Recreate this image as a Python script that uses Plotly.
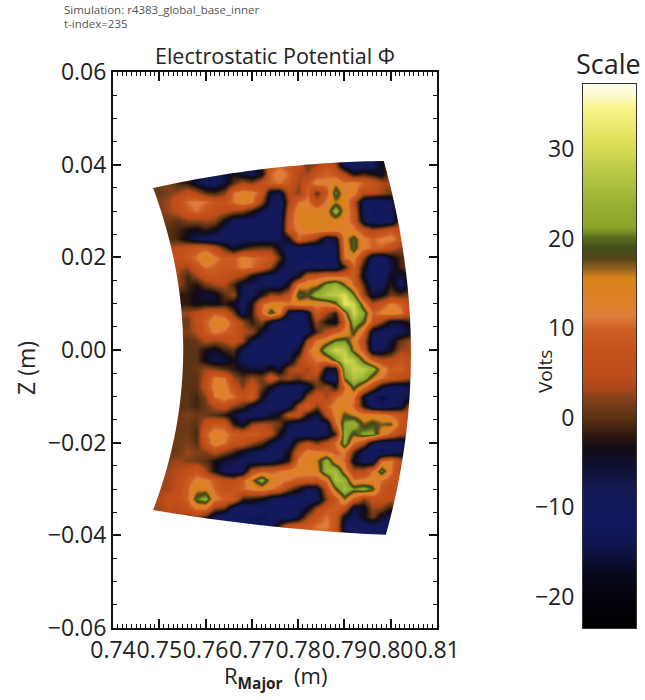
import numpy as np
import plotly.graph_objects as go

# Potential (volts). Columns run along R_major, rows down Z.
r_major = [round(0.748 + 0.002 * i, 3) for i in range(30)]
z_pos = [round(0.042 - 0.002 * j, 3) for j in range(43)]
phi = [
    [1,1,1,-1,-2,-5,-8,-9,-6,-2,-6,-8,-2,8,10,8,6,1,3,8,3,-9,-12,-11,-9,-4,2,2,2,2],
    [1,1,1,-1,-2,-5,-8,-9,-6,-2,-6,-8,-2,8,10,8,6,1,3,8,3,-9,-12,-11,-9,-4,2,2,2,2],
    [1,1,1,-1,-2,-6,-9,-10,-7,-3,-6,-8,-4,10,13,10,4,3,8,10,8,4,-3,-1,-3,-5,3,3,3,3],
    [1,1,2,-1,-2,-6,-9,-10,-6,0,4,2,6,10,11,9,3,8,13,12,15,11,13,10,8,4,3,3,3,3],
    [1,1,2,3,6,4,0,-1,2,11,13,13,8,-6,-7,5,2,10,0,8,21,13,13,5,5,3,1,1,1,1],
    [2,2,3,7,11,12,11,8,8,11,14,12,3,-8,-12,3,11,12,5,12,16,14,6,-9,-12,-12,-9,0,0,0],
    [2,2,3,5,9,11,8,7,5,3,2,-2,-7,-10,-12,6,14,14,14,14,24,14,8,-9,-13,-12,-10,2,2,2],
    [1,1,1,0,2,2,3,2,-4,-9,-10,-10,-11,-11,-10,8,14,15,15,14,14,13,9,-7,-11,-12,-10,2,2,2],
    [0,0,0,-1,-3,-4,-2,-4,-8,-10,-11,-11,-10,-10,-9,8,12,14,14,14,13,13,12,7,3,5,8,6,6,6],
    [0,0,0,-1,-5,-8,-9,-10,-11,-11,-10,-9,-9,-9,-8,-4,10,6,2,-8,-6,14,20,12,10,12,13,8,8,8],
    [4,4,4,5,7,9,9,6,0,-6,-2,0,1,1,-5,-10,-10,-11,-11,-10,-8,12,20,12,10,10,6,2,2,2],
    [8,8,8,6,9,11,16,12,9,9,13,11,10,8,0,-9,-12,-13,-12,-10,-9,11,13,2,-9,-11,-5,-1,1,1],
    [5,5,5,4,3,8,11,10,8,9,12,11,8,3,-5,-9,-10,-10,-10,-9,-9,-2,10,-3,-11,-12,-7,-1,1,1],
    [3,3,3,3,-1,3,7,8,7,5,3,-3,-7,-9,-10,-9,-5,7,8,10,10,10,9,-5,-11,-11,-4,-6,-2,-2],
    [3,3,3,3,-1,-3,1,3,4,-1,-7,-8,-9,-9,-9,-3,14,15,16,22,25,18,10,0,-10,-9,-2,-9,-3,-3],
    [-2,-2,-2,-2,-2,-4,-6,-5,0,3,-8,-9,-3,3,2,6,20,18,24,27,28,31,20,3,-6,-4,1,0,2,2],
    [-2,-2,-2,-2,-2,-4,-3,-4,-2,-5,-9,-3,10,13,14,11,14,14,12,13,17,32,30,14,4,8,12,10,5,5],
    [3,3,3,3,3,5,8,10,8,1,-8,-2,10,20,13,-7,-10,-6,9,3,-2,15,30,22,10,12,14,12,6,6],
    [1,1,1,1,1,6,10,13,14,8,3,-2,2,-6,-10,-12,-12,-7,3,-3,-5,9,24,19,8,2,-5,-5,-2,-2],
    [2,2,2,2,2,4,9,12,10,8,4,3,-5,-9,-11,-12,-11,-9,-1,5,9,12,19,10,-7,-10,-10,-9,-5,-5],
    [0,0,0,0,0,1,4,3,4,7,3,-7,-10,-11,-12,-12,-11,4,12,15,20,21,14,5,-9,-10,-6,1,3,3],
    [0,0,0,0,0,0,-3,-5,-1,0,-8,-12,-12,-11,-11,-10,-5,10,14,24,30,28,16,8,-9,-8,-4,3,3,3],
    [0,0,0,0,0,0,-4,-7,-6,-3,-9,-11,-11,-10,-10,-8,3,9,11,13,20,30,28,17,9,5,5,8,5,5],
    [0,0,0,0,0,1,3,2,0,-2,-4,-6,-6,-3,-6,3,5,3,9,-5,-5,24,29,28,24,14,9,10,6,6],
    [0,0,0,0,0,0,5,12,11,3,0,3,1,8,2,3,1,4,3,-9,-9,20,27,24,16,11,8,6,3,3],
    [0,0,0,0,0,0,6,13,13,7,2,7,1,-4,-8,-9,-10,-7,1,3,-3,10,20,12,4,-5,-9,-9,-7,-7],
    [0,0,0,0,0,-1,2,11,13,11,6,10,-3,-9,-11,-10,-9,3,8,3,10,13,12,-5,-12,-16,-12,-9,-6,-6],
    [0,0,0,0,0,-1,1,4,7,2,0,-6,-9,-10,-10,-9,4,10,2,9,13,14,10,-3,-10,-12,-10,-7,3,3],
    [1,1,1,1,2,1,1,0,-2,-6,-9,-10,-9,-6,-3,6,6,-3,-7,5,13,18,16,13,14,13,10,8,5,5],
    [1,1,1,1,1,0,6,9,9,-2,-6,2,4,3,1,-6,-9,-10,-10,-8,10,22,24,17,19,17,18,8,3,3],
    [1,1,1,1,1,-1,10,13,12,9,8,10,8,5,-3,-9,-11,-11,-10,-8,-1,24,18,22,22,14,9,4,4,4],
    [1,1,1,1,2,0,7,14,11,7,7,3,0,-6,-9,-9,1,5,1,5,11,23,11,5,-7,-10,-10,-9,-9,-9],
    [1,1,1,1,3,2,2,5,2,-1,-5,-7,-9,-10,-10,-4,8,13,12,11,9,12,0,-9,-13,-14,-11,-8,-8,-8],
    [2,2,2,3,2,1,0,-3,-6,-7,-9,-9,-9,-8,-6,-2,12,14,16,24,13,10,-5,-9,-10,10,12,5,5,5],
    [3,3,3,4,6,9,3,-3,-9,-10,-8,5,9,9,11,13,14,13,14,25,26,14,4,5,11,21,12,3,3,3],
    [3,3,3,5,9,12,12,9,6,4,9,16,23,15,13,11,9,9,8,12,27,24,11,12,13,11,8,8,8,8],
    [3,3,3,6,10,15,15,10,7,8,10,12,14,11,9,2,-3,-8,-7,6,18,26,21,23,19,8,5,5,5,5],
    [4,4,6,7,10,20,23,12,10,9,-1,-2,-4,-8,-10,-11,-11,-11,-10,2,8,17,9,2,6,7,5,5,5,5],
    [3,3,5,4,7,12,12,3,1,-9,-11,-10,-10,-11,-12,-11,-9,-5,3,8,10,7,-6,-5,3,2,-2,-2,-2,-2],
    [3,3,5,4,1,2,-1,-9,-12,-12,-11,-13,-14,-12,-10,-11,-6,3,8,11,8,-5,-9,-4,1,-5,-8,-8,-8,-8],
    [3,3,3,3,1,0,-3,-9,-11,-11,-11,-12,-11,-10,0,7,8,9,11,12,8,-8,-11,-10,-9,-11,-8,-8,-8,-8],
    [3,3,3,3,1,0,-3,-9,-11,-11,-11,-12,-11,-10,0,7,8,9,10,8,6,-3,-8,-10,-9,-7,-4,-4,-4,-4],
    [3,3,3,3,1,0,-3,-9,-11,-11,-11,-12,-11,-10,0,7,8,9,10,8,6,-3,-8,-10,-9,-7,-4,-4,-4,-4],
]
for row in phi:
    assert len(row) == len(r_major), row
assert len(phi) == len(z_pos)

# Colour table
scale_volts = [-23.5,-20.4,-17.4,-14.5,-11.8,-8.2,-5,-3.3,-1.8,0,2.2,3.2,4.9,7,10,11.3,12.4,15.7,16.6,17.7,18.8,20.2,21.3,23.6,27.4,31,34.7,36,37.25]
scale_rgb = [(0,0,0),(3,3,12),(8,8,30),(15,20,75),(18,25,95),(20,25,85),(15,15,45),(20,12,20),(50,25,15),(90,50,20),
             (130,65,25),(170,70,25),(190,78,25),(195,80,25),(205,95,35),(222,125,60),(225,128,45),(215,130,25),(150,100,30),
             (90,70,25),(65,75,25),(90,110,30),(140,165,40),(150,175,50),(185,200,70),(225,225,90),(250,245,140),(253,250,205),(255,253,235)]
vmin, vmax = scale_volts[0], scale_volts[-1]
colorscale = [[(v - vmin) / (vmax - vmin), f"rgb{c}"] for v, c in zip(scale_volts, scale_rgb)]
scale_ramp = list(np.arange(vmin, vmax + 0.01, 0.25))

# Wedge outline (corner and mid-edge positions, metres)
left_mid, left_top, left_bot = (0.75517, 0.0), (0.74867, 0.03497), (0.74867, -0.03453)
right_mid, right_top, right_bot = (0.80437, 0.0), (0.7985, 0.0408), (0.79895, -0.0399)
top_bulge, bot_bulge = 0.0013, 0.0008


def wedge_path():
    t = np.linspace(0, 1, 40)
    def q(p0, pm, p2, tt):
        c = (2 * pm[0] - 0.5 * (p0[0] + p2[0]), 2 * pm[1] - 0.5 * (p0[1] + p2[1]))
        return ((1-tt)**2*p0[0] + 2*tt*(1-tt)*c[0] + tt**2*p2[0],
                (1-tt)**2*p0[1] + 2*tt*(1-tt)*c[1] + tt**2*p2[1])
    top_m = ((left_top[0]+right_top[0])/2, (left_top[1]+right_top[1])/2 + top_bulge)
    bot_m = ((left_bot[0]+right_bot[0])/2, (left_bot[1]+right_bot[1])/2 - bot_bulge)
    segs = [q(left_bot, left_mid, left_top, t), q(left_top, top_m, right_top, t),
            q(right_top, right_mid, right_bot, t), q(right_bot, bot_m, left_bot, t)]
    xs = np.concatenate([s[0] for s in segs]); ys = np.concatenate([s[1] for s in segs])
    return "M" + "L".join(f"{a:.5f},{b:.5f}" for a, b in zip(xs, ys)) + "Z"


W, H = 645, 700
FONT = "Open Sans"
INK = "#222222"

fig = go.Figure()
fig.add_trace(go.Heatmap(x=r_major, y=z_pos, z=phi, colorscale=colorscale, zmin=vmin, zmax=vmax,
                         zsmooth="best", showscale=False, xaxis="x", yaxis="y"))
fig.add_trace(go.Heatmap(x=[0, 1], y=scale_ramp, z=[[v, v] for v in scale_ramp], colorscale=colorscale,
                         zmin=vmin, zmax=vmax, zsmooth="best", showscale=False, xaxis="x2", yaxis="y2"))

mask = "M0.7465,0.0435L0.8075,0.0435L0.8075,-0.0435L0.7465,-0.0435Z" + wedge_path()


def note(text, x, y, size, color="#222", anchor="center", angle=0):
    return dict(text=text, x=x/W, y=1-y/H, xref="paper", yref="paper", xanchor=anchor, yanchor="middle",
                showarrow=False, textangle=angle, font=dict(size=size, color=color))


fig.update_layout(
    template="none",
    width=W, height=H, margin=dict(l=0, r=0, t=0, b=0, autoexpand=False), paper_bgcolor="white", plot_bgcolor="white",
    font=dict(family=FONT, color=INK),
    showlegend=False,
    xaxis=dict(domain=[113/W, 437/W], range=[0.74, 0.81], dtick=0.01, tick0=0.74, tickformat=".2f", tickangle=0,
               automargin=False, ticks="inside", ticklen=9, tickwidth=1.5, tickcolor="#111", mirror="allticks",
               showline=True, linewidth=2, linecolor="#111", showgrid=False, zeroline=False, tickfont=dict(size=23),
               minor=dict(dtick=0.001, ticks="inside", ticklen=4, tickwidth=1, tickcolor="#111", showgrid=False)),
    yaxis=dict(domain=[1-628/H, 1-72/H], range=[-0.06, 0.06], dtick=0.02, tick0=-0.06, tickformat=".2f",
               automargin=False, ticks="inside", ticklen=8, tickwidth=1.5, tickcolor="#111", mirror="allticks",
               showline=True, linewidth=2, linecolor="#111", showgrid=False, zeroline=False, tickfont=dict(size=23),
               minor=dict(dtick=0.005, ticks="inside", ticklen=4, tickwidth=1, tickcolor="#111", showgrid=False)),
    xaxis2=dict(domain=[583/W, 636/W], range=[0, 1], showticklabels=False, ticks="", showline=True, mirror=True,
                automargin=False, linewidth=1, linecolor="#333", showgrid=False, zeroline=False, anchor="y2"),
    yaxis2=dict(domain=[1-628/H, 1-84/H], range=[vmin, vmax], tickvals=[-20, -10, 0, 10, 20, 30], ticks="",
                automargin=False, showline=True, mirror=True, linewidth=1, linecolor="#333", showgrid=False,
                zeroline=False, tickfont=dict(size=23), anchor="x2", ticklabelstandoff=3),
    shapes=[dict(type="path", path=mask, xref="x", yref="y", fillcolor="white", line=dict(width=0),
                 fillrule="evenodd", layer="above")],
    annotations=[
        note("Simulation: r4383_global_base_inner", 62, 10, 11.5, "#555", "left"),
        note("t-index=235", 62, 24, 11.5, "#555", "left"),
        note("Electrostatic Potential \u03a6", 275, 56, 21.5),
        note("Scale", 608, 64, 27),
        note("Volts", 545, 372, 19, angle=-90),
        note("Z (m)", 26, 368, 23, angle=-90),
        note("R<sub><b>Major</b></sub>  (m)", 275, 677, 22),
    ],
)

fig.write_html("out.html", config=dict(displayModeBar=False), post_script="document.body.style.margin='0';")
